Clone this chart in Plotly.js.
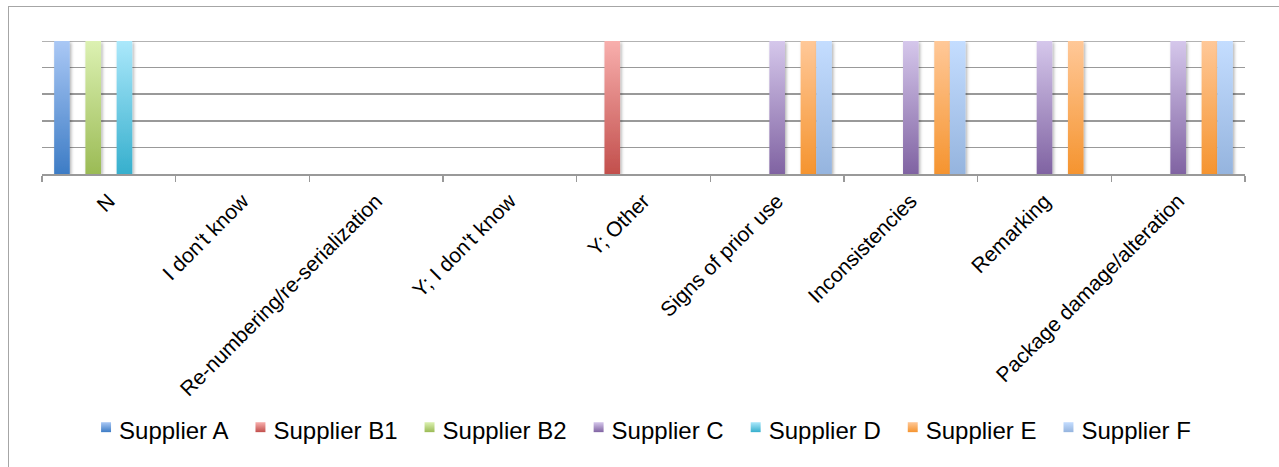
<!DOCTYPE html>
<html>
<head>
<meta charset="utf-8">
<script src="https://cdn.plot.ly/plotly-3.0.1.min.js"></script>
<style>
  html, body { margin: 0; padding: 0; background: #fff; }
  #wrap { position: relative; width: 1279px; height: 467px; overflow: hidden; }
  #chart { width: 1279px; height: 467px; }
  #frame { position: absolute; left: 8px; top: 6px; width: 1400px; height: 600px;
           border: 1.5px solid #a6a6a6; pointer-events: none; }
</style>
</head>
<body>
<div id="wrap"><div id="chart"></div><div id="frame"></div></div>
<script>
// Categories along the x axis
const categories = [
  "N",
  "I don't know",
  "Re-numbering/re-serialization",
  "Y; I don't know",
  "Y; Other",
  "Signs of prior use",
  "Inconsistencies",
  "Remarking",
  "Package damage/alteration"
];

// Series names
const seriesNames = ["Supplier A", "Supplier B1", "Supplier B2", "Supplier C",
                     "Supplier D", "Supplier E", "Supplier F"];

// Values per supplier (null = no response in that category)
const supplierA  = [1, null, null, null, null, null, null, null, null];
const supplierB1 = [null, null, null, null, 1, null, null, null, null];
const supplierB2 = [1, null, null, null, null, null, null, null, null];
const supplierC  = [null, null, null, null, null, 1, 1, 1, 1];
const supplierD  = [1, null, null, null, null, null, null, null, null];
const supplierE  = [null, null, null, null, null, 1, 1, 1, 1];
const supplierF  = [null, null, null, null, null, 1, 1, null, 1];

const seriesValues = [supplierA, supplierB1, supplierB2, supplierC,
                      supplierD, supplierE, supplierF];

// Value axis extent and gridline step
const yMax = 1;
const yStep = 0.2;

// Gradient colours per series: light top, saturated bottom
const topColors    = ["#aac8f5", "#f8afad", "#dcf1b2", "#d5c7eb", "#abe8fb", "#ffc898", "#c4ddff"];
const bottomColors = ["#3d7cc5", "#c24f4c", "#9bbb55", "#8063a2", "#36afcd", "#f5942f", "#95b4de"];

const fontFamily = "Liberation Sans, Arial, Helvetica, sans-serif";
const axisGray = "#999999";

const traces = seriesNames.map((name, i) => ({
  type: "bar",
  name: name,
  x: categories,
  y: seriesValues[i],
  marker: { color: bottomColors[i], line: { width: 0 } },
  hoverinfo: "skip"
}));

const layout = {
  width: 1279,
  height: 467,
  margin: { l: 42, r: 34, t: 41, b: 293 },
  paper_bgcolor: "rgba(0,0,0,0)",
  plot_bgcolor: "rgba(0,0,0,0)",
  barmode: "group",
  bargap: 0.182,
  bargroupgap: 0,
  font: { family: fontFamily, size: 21, color: "#000000" },
  showlegend: true,
  legend: {
    orientation: "h",
    x: 0.0308, xanchor: "left",
    y: -1.9216, yanchor: "middle",
    font: { family: fontFamily, size: 24, color: "#000000" },
    traceorder: "normal"
  },
  // top gridline at the axis maximum (the axis itself skips the edge line)
  shapes: [{
    type: "line", layer: "below",
    xref: "paper", x0: 0, x1: 1,
    yref: "y", y0: yMax, y1: yMax,
    line: { color: axisGray, width: 1.5 }
  }],
  xaxis: {
    type: "category",
    tickangle: -45,
    ticks: "outside",
    tickson: "boundaries",
    ticklen: 6,
    tickwidth: 1.5,
    tickcolor: axisGray,
    ticklabelstandoff: 5,
    showline: true,
    linecolor: axisGray,
    linewidth: 1.5,
    showgrid: false,
    automargin: false,
    tickfont: { family: fontFamily, size: 21, color: "#000000" }
  },
  yaxis: {
    range: [0, yMax],
    tick0: 0,
    dtick: yStep,
    showticklabels: false,
    showline: false,
    zeroline: false,
    showgrid: true,
    gridcolor: axisGray,
    gridwidth: 1.5,
    ticks: "",
    automargin: false
  }
};

const gd = document.getElementById("chart");
Plotly.newPlot(gd, traces, layout, { staticPlot: true, displayModeBar: false }).then(() => {
  const NS = "http://www.w3.org/2000/svg";
  const svg = gd.querySelector(".main-svg");
  let defs = svg.querySelector("defs");
  if (!defs) { defs = document.createElementNS(NS, "defs"); svg.insertBefore(defs, svg.firstChild); }

  // vertical gradients, one per series
  seriesNames.forEach((_, i) => {
    const g = document.createElementNS(NS, "linearGradient");
    g.setAttribute("id", "barGrad" + i);
    g.setAttribute("x1", "0"); g.setAttribute("y1", "0");
    g.setAttribute("x2", "0"); g.setAttribute("y2", "1");
    const s1 = document.createElementNS(NS, "stop");
    s1.setAttribute("offset", "0"); s1.setAttribute("stop-color", topColors[i]);
    const s2 = document.createElementNS(NS, "stop");
    s2.setAttribute("offset", "1"); s2.setAttribute("stop-color", bottomColors[i]);
    g.appendChild(s1); g.appendChild(s2);
    defs.appendChild(g);
  });

  // soft shadow behind the bars
  const f = document.createElementNS(NS, "filter");
  f.setAttribute("id", "barShadow");
  f.setAttribute("x", "-50%"); f.setAttribute("y", "-10%");
  f.setAttribute("width", "200%"); f.setAttribute("height", "130%");
  const ds = document.createElementNS(NS, "feDropShadow");
  ds.setAttribute("dx", "1.5"); ds.setAttribute("dy", "1.5");
  ds.setAttribute("stdDeviation", "1.8");
  ds.setAttribute("flood-color", "#000"); ds.setAttribute("flood-opacity", "0.3");
  f.appendChild(ds);
  defs.appendChild(f);

  gd.querySelectorAll(".barlayer .trace").forEach((tr, i) => {
    tr.querySelectorAll(".point path").forEach(p => {
      p.style.fill = "url(#barGrad" + i + ")";
      p.setAttribute("filter", "url(#barShadow)");
    });
  });
  // legend swatches: smaller squares, set closer to their text
  gd.querySelectorAll(".legend .traces").forEach((tr, i) => {
    tr.querySelectorAll(".legendpoints path").forEach(p => {
      p.style.fill = "url(#barGrad" + i + ")";
      p.setAttribute("transform", "translate(27,-2) scale(0.83)");
    });
  });
});
</script>
</body>
</html>
